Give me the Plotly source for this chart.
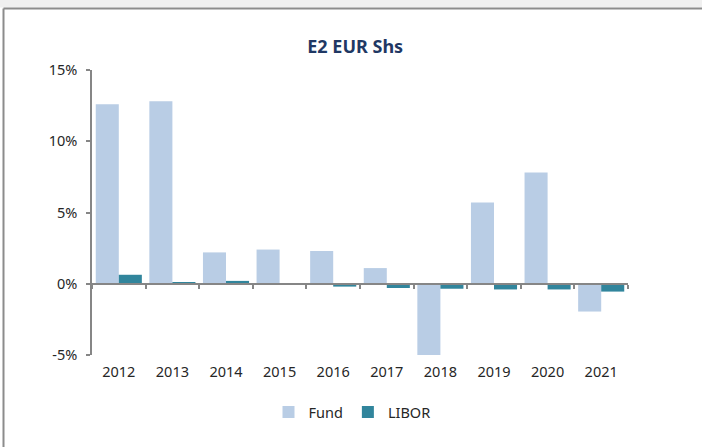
import plotly.graph_objects as go

years = ["2012", "2013", "2014", "2015", "2016", "2017", "2018", "2019", "2020", "2021"]
fund = [12.6, 12.8, 2.2, 2.4, 2.3, 1.1, -5.05, 5.7, 7.8, -1.95]
libor = [0.63, 0.12, 0.2, 0.0, -0.2, -0.3, -0.35, -0.4, -0.4, -0.55]
y_ticks = [-5, 0, 5, 10, 15]

FONT = "Noto Sans"
AX = "#868686"

fig = go.Figure()
fig.add_trace(go.Bar(x=years, y=fund, name="Fund", marker=dict(color="#b9cde5", line=dict(width=0))))
fig.add_trace(go.Bar(x=years, y=libor, name="LIBOR", marker=dict(color="#31859c", line=dict(width=0))))

# border decorations (paper coords)
def px_x(px):
    return (px - 92) / 536
def px_y(py):
    return (355 - py) / 285

shapes = [
    dict(type="rect", xref="paper", yref="paper", x0=px_x(0), x1=px_x(702), y0=px_y(7.5), y1=px_y(0),
         fillcolor="#f0f0f0", line=dict(width=0), layer="below"),
    dict(type="line", xref="paper", yref="paper", x0=px_x(3.5), x1=px_x(702), y0=px_y(8.5), y1=px_y(8.5),
         line=dict(color="#8c8c8c", width=2)),
    dict(type="line", xref="paper", yref="paper", x0=px_x(3.5), x1=px_x(3.5), y0=px_y(8.5), y1=px_y(447),
         line=dict(color="#8c8c8c", width=2)),
]

fig.update_layout(
    width=702, height=447,
    margin=dict(l=92, r=74, t=70, b=92),
    paper_bgcolor="white", plot_bgcolor="white",
    barmode="group", bargap=0.14, bargroupgap=0,
    font=dict(family=FONT, size=14.5, color="#262626"),
    title=dict(text="<b>E2 EUR Shs</b>", x=0.506, xref="container", xanchor="center",
               y=1 - 47 / 447, yref="container", yanchor="middle",
               font=dict(family=FONT, size=18, color="#1f3864")),
    xaxis=dict(type="category", showline=False, ticks="", showgrid=False, zeroline=False,
               range=[-0.5, 9.5], tickfont=dict(size=14.5), ticklabelstandoff=6),
    xaxis2=dict(overlaying="x", anchor="free", position=0.25, range=[0, 10], tickvals=list(range(11)),
                showticklabels=False, ticks="outside", ticklen=4, tickcolor=AX, tickwidth=1.5,
                showline=True, linecolor=AX, linewidth=1.5, showgrid=False, zeroline=False),
    yaxis=dict(range=[-5, 15], tickvals=y_ticks, ticktext=[f"{v}%" for v in y_ticks],
               showline=True, linecolor=AX, linewidth=1.5, ticks="outside", ticklen=4, tickcolor=AX,
               tickwidth=1.5, showgrid=False, zeroline=False, tickfont=dict(size=14.5),
               ticklabelstandoff=6),
    legend=dict(orientation="h", x=px_x(352), xanchor="center", y=px_y(412), yanchor="middle",
                font=dict(size=14.5), itemwidth=30, traceorder="normal"),
    shapes=shapes,
)
# invisible helper trace so the zero-line axis (x2) is drawn
fig.add_trace(go.Scatter(x=[0], y=[0], xaxis="x2", mode="markers", marker=dict(opacity=0),
                         showlegend=False, hoverinfo="skip"))

fig.write_html("out.html", config={"displayModeBar": False},
               post_script="document.body.style.margin='0';document.body.style.overflow='hidden';")
